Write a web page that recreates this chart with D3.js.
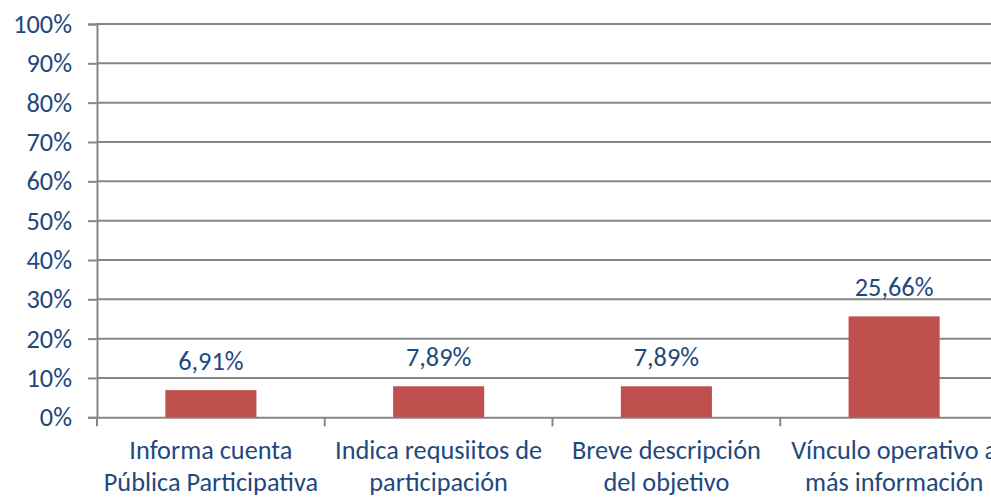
<!DOCTYPE html>
<html>
<head>
<meta charset="utf-8">
<script src="https://cdn.jsdelivr.net/npm/d3@7"></script>
<style>
  html, body { margin: 0; padding: 0; background: #ffffff; overflow: hidden; }
  svg { display: block; }
  text { font-family: Carlito, Calibri, Lato, "Noto Sans", sans-serif; font-weight: 300; fill: #1F497D; }
</style>
</head>
<body>
<svg id="chart" width="991" height="497"></svg>
<script>
const categories = [
  ["Informa cuenta", "Pública Participativa"],
  ["Indica requsiitos de", "participación"],
  ["Breve descripción", "del objetivo"],
  ["Vínculo operativo a", "más información"]
];
const values = [0.0691, 0.0789, 0.0789, 0.2566];
const valueLabels = ["6,91%", "7,89%", "7,89%", "25,66%"];
const yTicks = [0, 0.1, 0.2, 0.3, 0.4, 0.5, 0.6, 0.7, 0.8, 0.9, 1.0];

const svg = d3.select("#chart");
const plotLeft = 97, plotRight = 1008, plotTop = 24, plotBottom = 417.3;
const fontSize = 26.3;

const x = d3.scaleBand()
  .domain(d3.range(categories.length))
  .range([plotLeft, plotRight])
  .padding(0);

const y = d3.scaleLinear().domain([0, 1]).range([plotBottom, plotTop]);

// gridlines
svg.append("g").selectAll("line")
  .data(yTicks.filter(d => d > 0))
  .join("line")
  .attr("x1", plotLeft).attr("x2", plotRight)
  .attr("y1", d => y(d)).attr("y2", d => y(d))
  .attr("stroke", "#868686").attr("stroke-width", 2);

// y axis
const yAxis = d3.axisLeft(y)
  .tickValues(yTicks)
  .tickSize(9)
  .tickPadding(16)
  .tickFormat(d => Math.round(d * 100) + "%");

const gY = svg.append("g").attr("transform", `translate(${plotLeft},0)`).call(yAxis);
gY.select(".domain").attr("stroke", "#868686").attr("stroke-width", 2);
gY.selectAll(".tick line").attr("stroke", "#868686").attr("stroke-width", 2);
gY.selectAll(".tick text")
  .attr("font-size", fontSize)
  .attr("fill", "#1F497D")
  .style("font-family", "Carlito, Calibri, Lato, sans-serif")
  .style("font-weight", 300);

// x axis
const xAxis = d3.axisBottom(x).tickSize(0).tickFormat("");
const gX = svg.append("g").attr("transform", `translate(0,${plotBottom})`).call(xAxis);
gX.select(".domain").attr("stroke", "#868686").attr("stroke-width", 2);
gX.selectAll(".tick").remove();

// category separator ticks
const sepTicks = d3.range(categories.length + 1).map(i => i < categories.length ? x(i) : plotRight);
svg.append("g").selectAll("line")
  .data(sepTicks)
  .join("line")
  .attr("x1", d => d).attr("x2", d => d)
  .attr("y1", plotBottom).attr("y2", plotBottom + 9)
  .attr("stroke", "#868686").attr("stroke-width", 2);

// bars
const barW = x.bandwidth() * 0.4;
svg.append("g").selectAll("rect")
  .data(values)
  .join("rect")
  .attr("x", (d, i) => x(i) + (x.bandwidth() - barW) / 2)
  .attr("y", d => y(d))
  .attr("width", barW)
  .attr("height", d => y(0) - y(d))
  .attr("fill", "#C0504D");

// value labels
svg.append("g").selectAll("text")
  .data(values)
  .join("text")
  .attr("x", (d, i) => x(i) + x.bandwidth() / 2)
  .attr("y", d => y(d) - 20)
  .attr("text-anchor", "middle")
  .attr("font-size", fontSize)
  .text((d, i) => valueLabels[i]);

// category labels
const catG = svg.append("g").selectAll("text")
  .data(categories)
  .join("text")
  .attr("x", (d, i) => x(i) + x.bandwidth() / 2)
  .attr("y", 459)
  .attr("text-anchor", "middle")
  .attr("font-size", fontSize);
catG.selectAll("tspan")
  .data(d => d)
  .join("tspan")
  .attr("x", function() { return this.parentNode.getAttribute("x"); })
  .attr("dy", (d, j) => j === 0 ? 0 : 32)
  .text(d => d);
</script>
</body>
</html>
